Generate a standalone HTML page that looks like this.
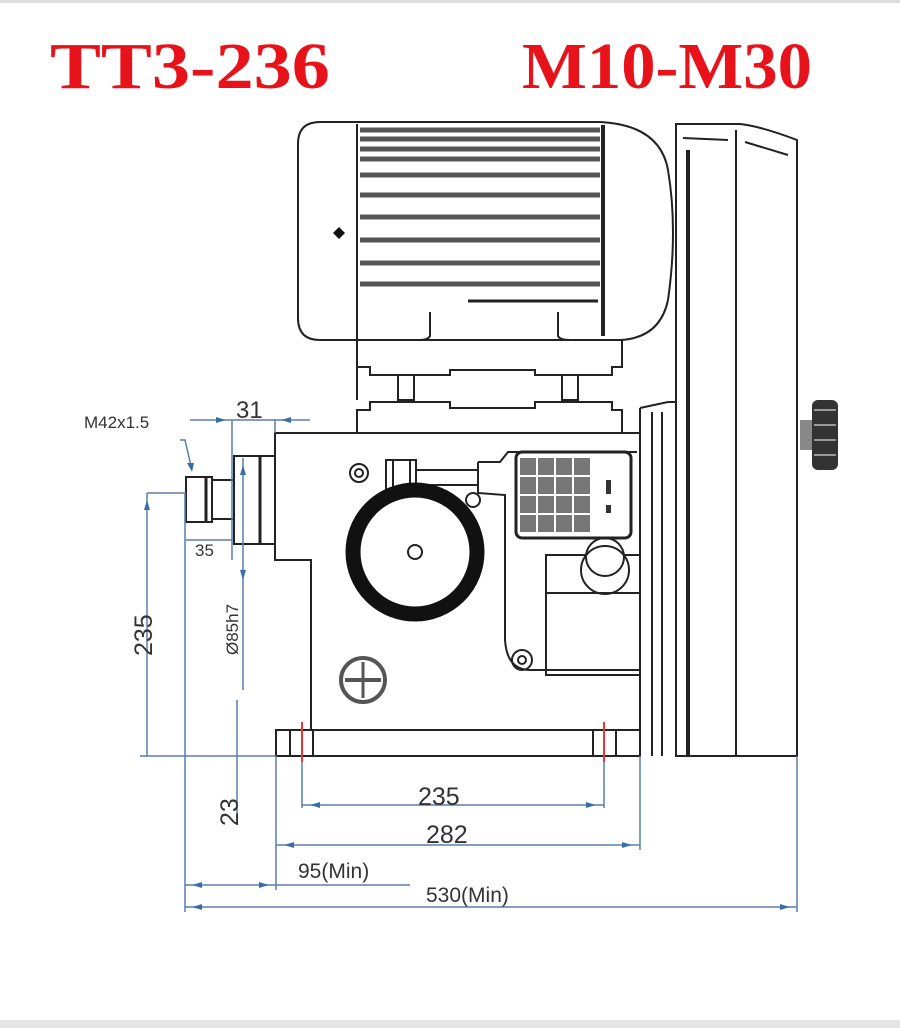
<!DOCTYPE html>
<html><head><meta charset="utf-8"><style>
html,body{margin:0;padding:0;background:#fff;width:900px;height:1028px;overflow:hidden}
svg{display:block}
.t{font-family:"Liberation Serif",serif;font-weight:bold;fill:#e8121a;font-size:66px}
.d{font-family:"Liberation Sans",sans-serif;fill:#333;font-size:25px}
.s{font-family:"Liberation Sans",sans-serif;fill:#333;font-size:17px}
</style></head><body>
<svg width="900" height="1028" viewBox="0 0 900 1028" xmlns="http://www.w3.org/2000/svg">
<rect x="0" y="0" width="900" height="3" fill="#ddd"/>
<rect x="0" y="1020" width="900" height="8" fill="#e4e4e4"/>
<text class="t" x="50" y="88" textLength="280" lengthAdjust="spacingAndGlyphs">TT3-236</text>
<text class="t" x="522" y="88" textLength="290" lengthAdjust="spacingAndGlyphs">M10-M30</text>

<g fill="none" stroke="#222" stroke-width="2">
<!-- column -->
<path d="M676 124 L676 756 L797 756 L797 140 Q760 126 740 124 Z"/>
<line x1="688" y1="150" x2="688" y2="756" stroke-width="4"/>
<line x1="736" y1="130" x2="736" y2="756" stroke-width="2"/>
<line x1="683" y1="138" x2="728" y2="140"/>
<line x1="745" y1="142" x2="788" y2="155"/>
<!-- motor -->
<path d="M320 122 L600 122 Q660 125 668 170 Q678 230 668 300 Q660 338 620 340 L320 340 Q298 340 298 318 L298 144 Q298 122 320 122 Z"/>
<line x1="357" y1="124" x2="357" y2="400"/>
<line x1="603" y1="125" x2="603" y2="336" stroke-width="4"/>
</g>
<g stroke="#555" stroke-width="5">
<line x1="360" y1="130" x2="600" y2="130"/><line x1="360" y1="139" x2="600" y2="139"/>
<line x1="360" y1="149" x2="600" y2="149"/><line x1="360" y1="159" x2="600" y2="159"/>
<line x1="360" y1="175" x2="600" y2="175"/><line x1="360" y1="195" x2="600" y2="195"/>
<line x1="360" y1="217" x2="600" y2="217"/><line x1="360" y1="240" x2="600" y2="240"/>
<line x1="360" y1="263" x2="600" y2="263"/><line x1="360" y1="284" x2="600" y2="284"/>
</g>
<line x1="468" y1="301" x2="598" y2="301" stroke="#222" stroke-width="3"/>
<path d="M339 227 l6 6 l-6 6 l-6 -6 z" fill="#111"/>
<g fill="none" stroke="#222" stroke-width="2">
<path d="M430 312 L430 336 Q428 340 420 340"/><path d="M558 312 L558 336 Q560 340 570 340"/>
<!-- motor base -->
<path d="M357 340 L622 340 L622 367 L612 367 L612 375 L535 375 L535 370 L450 370 L450 375 L370 375 L370 367 L357 367"/>
<rect x="398" y="375" width="16" height="25"/><rect x="562" y="375" width="16" height="25"/>
<path d="M357 432 L357 410 L370 410 L370 402 L450 402 L450 408 L535 408 L535 402 L612 402 L612 410 L622 410 L622 434"/>
<!-- gearbox -->
<path d="M275 433 L640 433 L640 730 L311 730 L311 560 L275 560 Z"/>
<line x1="640" y1="408" x2="640" y2="756"/>
<path d="M640 408 L668 402 L676 402"/>
<line x1="652" y1="412" x2="652" y2="756"/><line x1="662" y1="412" x2="662" y2="756"/>
<!-- base plate -->
<rect x="276" y="730" width="364" height="26"/>
<line x1="290" y1="730" x2="290" y2="756"/><line x1="313" y1="730" x2="313" y2="756"/>
<line x1="593" y1="730" x2="593" y2="756"/><line x1="616" y1="730" x2="616" y2="756"/>
<!-- spindle -->
<rect x="234" y="456" width="41" height="88"/>
<line x1="260" y1="456" x2="260" y2="544" stroke-width="3"/>
<rect x="186" y="477" width="26" height="45"/>
<rect x="212" y="480" width="22" height="39"/>
<line x1="206" y1="477" x2="206" y2="522" stroke-width="3"/>
<!-- small parts -->
<circle cx="359" cy="473" r="9"/><circle cx="359" cy="473" r="4"/>
<circle cx="473" cy="500" r="7"/>
<circle cx="415" cy="552" r="7"/>
<rect x="386" y="460" width="30" height="34"/>
<line x1="393" y1="460" x2="393" y2="494"/><line x1="410" y1="460" x2="410" y2="494"/>
<path d="M416 470 L478 470 M416 485 L478 485 M478 462 L500 462 L508 452 L637 452"/>
<path d="M478 462 L478 493 L505 495 L505 640 Q507 670 530 670 L640 670"/>
<rect x="546" y="555" width="94" height="120"/>
<line x1="546" y1="593" x2="640" y2="593"/>
<circle cx="605" cy="557" r="19" fill="#fff"/>
<circle cx="605" cy="570" r="24"/>
<circle cx="522" cy="660" r="10"/><circle cx="522" cy="660" r="4"/>
<circle cx="363" cy="680" r="22" stroke="#555" stroke-width="4"/>
<line x1="345" y1="680" x2="381" y2="680" stroke="#555" stroke-width="4"/>
<line x1="363" y1="662" x2="363" y2="698" stroke="#555" stroke-width="3"/>
</g>
<circle cx="415" cy="552" r="62" fill="none" stroke="#111" stroke-width="15"/>
<rect x="516" y="452" width="115" height="86" rx="6" fill="#fff" stroke="#222" stroke-width="3"/>
<g fill="#333">
<rect x="520" y="458" width="70" height="74" fill="#777"/>
</g>
<g stroke="#fff" stroke-width="2">
<line x1="520" y1="476" x2="590" y2="476"/><line x1="520" y1="495" x2="590" y2="495"/><line x1="520" y1="514" x2="590" y2="514"/>
<line x1="537" y1="458" x2="537" y2="532"/><line x1="555" y1="458" x2="555" y2="532"/><line x1="573" y1="458" x2="573" y2="532"/>
</g>
<rect x="606" y="480" width="5" height="14" fill="#333"/><rect x="606" y="505" width="5" height="8" fill="#333"/>
<!-- knob -->
<rect x="800" y="420" width="15" height="30" fill="#888"/>
<rect x="812" y="400" width="26" height="70" rx="6" fill="#333"/>
<g stroke="#999" stroke-width="2"><line x1="814" y1="410" x2="836" y2="410"/><line x1="814" y1="425" x2="836" y2="425"/><line x1="814" y1="440" x2="836" y2="440"/><line x1="814" y1="455" x2="836" y2="455"/></g>
<!-- red marks -->
<line x1="302" y1="722" x2="302" y2="762" stroke="#e33" stroke-width="2"/>
<line x1="604" y1="722" x2="604" y2="762" stroke="#e33" stroke-width="2"/>
<!-- dimension lines -->
<g stroke="#5a7fa8" stroke-width="1.5" fill="none">
<line x1="147" y1="493" x2="186" y2="493"/><line x1="147" y1="493" x2="147" y2="756"/>
<line x1="140" y1="756" x2="276" y2="756"/>
<line x1="185" y1="493" x2="185" y2="912"/>
<line x1="232" y1="420" x2="232" y2="560"/><line x1="275" y1="420" x2="275" y2="433"/>
<line x1="190" y1="420" x2="310" y2="420"/>
<line x1="186" y1="540" x2="232" y2="540"/>
<line x1="243" y1="458" x2="243" y2="690"/>
<line x1="237" y1="700" x2="237" y2="825"/>
<line x1="276" y1="756" x2="276" y2="890"/>
<line x1="640" y1="756" x2="640" y2="850"/>
<line x1="797" y1="756" x2="797" y2="912"/>
<line x1="302" y1="762" x2="302" y2="808"/><line x1="604" y1="762" x2="604" y2="808"/>
<line x1="302" y1="805" x2="604" y2="805"/>
<line x1="276" y1="845" x2="640" y2="845"/>
<line x1="185" y1="885" x2="410" y2="885"/>
<line x1="185" y1="907" x2="797" y2="907"/>
<path d="M180 440 L185 440 L192 470"/>
</g>
<g fill="#3a6ea5">
<path d="M192 472 l-5 -9 l7 0 z"/>
<path d="M147 500 l-3 10 l6 0z"/><path d="M243 465 l-3 10 l6 0z"/><path d="M243 580 l-3 -10 l6 0z"/>
<path d="M310 805 l10 -3 l0 6z"/><path d="M596 805 l-10 -3 l0 6z"/>
<path d="M284 845 l10 -3 l0 6z"/><path d="M632 845 l-10 -3 l0 6z"/>
<path d="M192 885 l10 -3 l0 6z"/><path d="M269 885 l-10 -3 l0 6z"/>
<path d="M192 907 l10 -3 l0 6z"/><path d="M790 907 l-10 -3 l0 6z"/>
<path d="M226 420 l-10 -3 l0 6z"/><path d="M281 420 l10 -3 l0 6z"/>
</g>
<text class="s" x="84" y="428">M42x1.5</text>
<text class="d" x="236" y="418" style="font-size:24px">31</text>
<text class="s" x="195" y="556">35</text>
<text class="d" transform="translate(152 656) rotate(-90)">235</text>
<text class="s" transform="translate(238 655) rotate(-90)">Ø85h7</text>
<text class="d" transform="translate(238 826) rotate(-90)">23</text>
<text class="d" x="418" y="805">235</text>
<text class="d" x="426" y="843">282</text>
<text class="s" x="298" y="878" style="font-size:21px">95(Min)</text>
<text class="s" x="426" y="902" style="font-size:21px">530(Min)</text>
</svg>
</body></html>
